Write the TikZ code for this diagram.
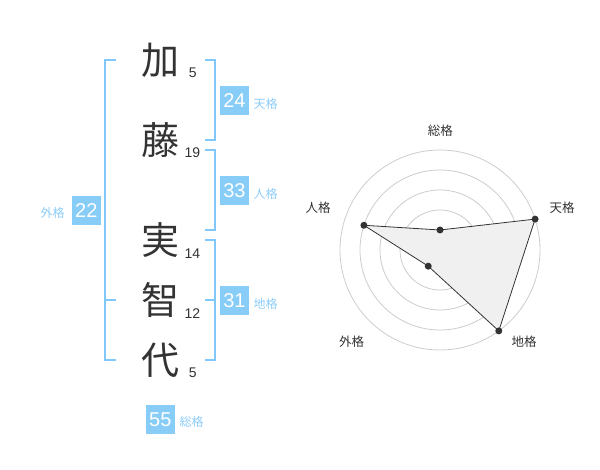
\documentclass[tikz,border=0pt]{standalone}
\usepackage{fontspec}
\setmainfont{Liberation Sans}
\newfontfamily\cjk{Noto Sans CJK JP}
\definecolor{brk}{RGB}{128,200,250}
\definecolor{boxc}{RGB}{136,204,248}
\definecolor{lbl}{RGB}{140,205,250}
\definecolor{ink}{RGB}{51,51,51}
\definecolor{grid}{RGB}{204,204,204}
\definecolor{polyfill}{RGB}{240,240,240}
\tikzset{
  kanji/.style={inner sep=0pt, text=ink, font=\cjk\fontsize{38}{38}\selectfont},
  stroke/.style={inner sep=0pt, text=ink, font=\fontsize{14}{14}\selectfont},
  numbox/.style={fill=boxc, text=white, minimum width=28.5pt, minimum height=28.5pt, inner sep=0pt, font=\fontsize{20}{20}\selectfont},
  boxlabel/.style={inner sep=0pt, text=lbl, font=\cjk\fontsize{12}{12}\selectfont},
  bracket/.style={draw=brk, line width=2pt},
  axislabel/.style={inner sep=0pt, text=ink, font=\cjk\fontsize{12.5}{12.5}\selectfont},
  ring/.style={draw=grid, line width=0.8pt},
  dot/.style={circle, fill=ink, inner sep=0pt, minimum size=7pt},
}
\begin{document}
\begin{tikzpicture}[x=1pt, y=-1pt]
\useasboundingbox (0,0) rectangle (600,470);
% kanji
\node[kanji] (k1) at (160,60) {加};
\node[kanji] (k2) at (160,140) {藤};
\node[kanji] (k3) at (160,240) {実};
\node[kanji] (k4) at (160,300) {智};
\node[kanji] (k5) at (160,360) {代};
% stroke counts
\node[stroke] (s1) at (192.7,72.7) {5};
\node[stroke] (s2) at (192.3,152.7) {19};
\node[stroke] (s3) at (192.3,253.3) {14};
\node[stroke] (s4) at (192.3,313.3) {12};
\node[stroke] (s5) at (192.7,372.7) {5};
% brackets
\draw[bracket] (116,60) -- (105,60) -- (105,360) -- (116,360);
\draw[bracket] (105,300) -- (116,300);
\draw[bracket] (205,60) -- (215,60) -- (215,140) -- (205,140);
\draw[bracket] (205,150) -- (215,150) -- (215,230) -- (205,230);
\draw[bracket] (205,240) -- (215,240) -- (215,360) -- (205,360);
\draw[bracket] (205,300) -- (215,300);
% boxes
\node[numbox] (ten) at (234.5,100.3) {24};
\node[boxlabel] (tenl) at (265.7,104) {天格};
\node[numbox] (jin) at (234.5,190.3) {33};
\node[boxlabel] (jinl) at (265.7,194) {人格};
\node[numbox] (chi) at (234.5,300.3) {31};
\node[boxlabel] (chil) at (265.7,304.3) {地格};
\node[numbox] (gai) at (86.3,210.3) {22};
\node[boxlabel] (gail) at (52.7,213.3) {外格};
\node[numbox] (sou) at (160.3,419.3) {55};
\node[boxlabel] (soul) at (191.7,422.3) {総格};
% radar chart
\begin{scope}[shift={(440,250)}]
  \foreach \r in {20,40,60,80,100} {\draw[ring] (0,0) circle[radius=\r pt];}
  \fill[grid] (0,0) circle[radius=3.5pt];
  \coordinate (pS) at (90:20pt);
  \coordinate (pT) at (18:100pt);
  \coordinate (pC) at (-54:100pt);
  \coordinate (pG) at (-126:20pt);
  \coordinate (pJ) at (162:80pt);
  \filldraw[fill=polyfill, draw=ink, line width=0.8pt] (pS) -- (pT) -- (pC) -- (pG) -- (pJ) -- cycle;
  \foreach \p in {pS,pT,pC,pG,pJ} {\node[dot] at (\p) {};}
\end{scope}
\node[axislabel] (aS) at (440.3,130.7) {総格};
\node[axislabel] (aT) at (562,208) {天格};
\node[axislabel] (aJ) at (318,208) {人格};
\node[axislabel] (aG) at (351.7,341.7) {外格};
\node[axislabel] (aC) at (524,341.7) {地格};
\end{tikzpicture}
\end{document}
